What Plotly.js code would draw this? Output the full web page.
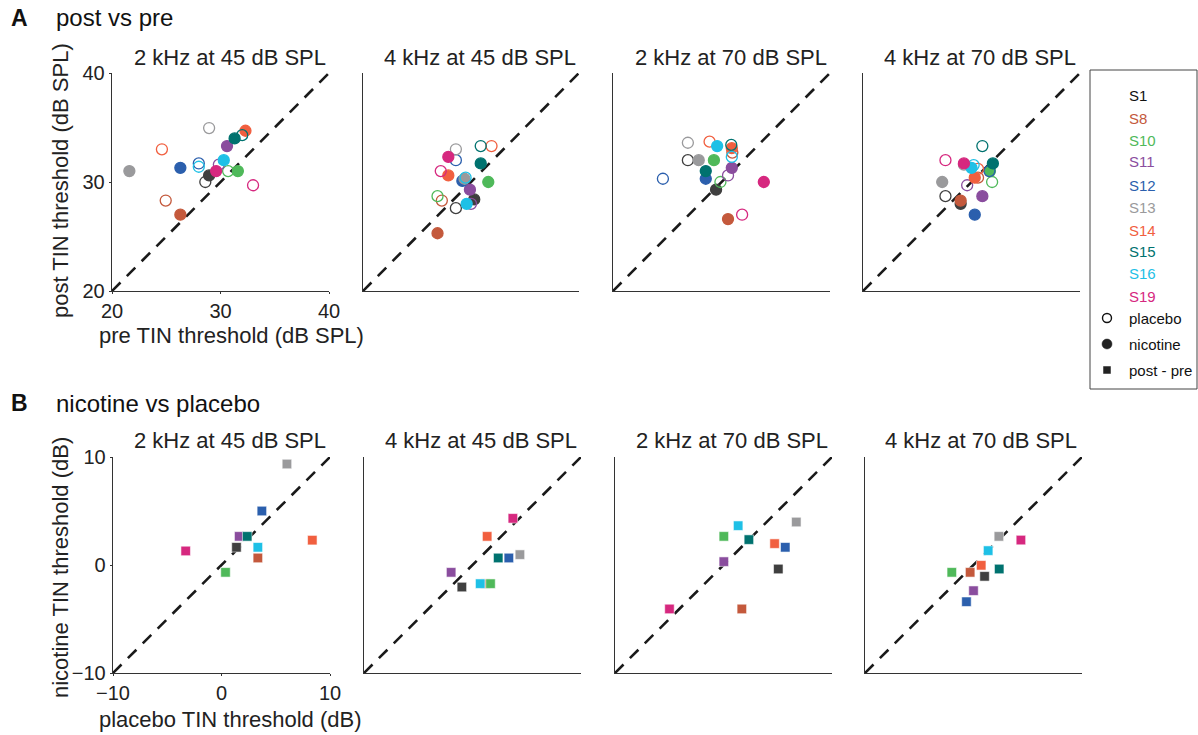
<!DOCTYPE html>
<html>
<head>
<meta charset="utf-8">
<script src="https://cdn.plot.ly/plotly-3.0.1.min.js"></script>
<style>html,body{margin:0;padding:0;background:#fff;}#chart{width:1198px;height:735px;}</style>
</head>
<body>
<div id="chart"></div>
<script>
// ---- data ----
const subjects = ['S1','S8','S10','S11','S12','S13','S14','S15','S16','S19'];
const subjectColors = ['#3f3f3f','#c4593c','#4fb95a','#8a4d9e','#2b5fad','#9a9a9c','#f15f3f','#00726f','#1ec0e6','#d6287f'];
const panelTitles = ['2 kHz at 45 dB SPL','4 kHz at 45 dB SPL','2 kHz at 70 dB SPL','4 kHz at 70 dB SPL'];

// A: post vs pre (x = pre, y = post), placebo (open) and nicotine (filled)
const pre_pl_2k45  = [28.6,24.95,30.7,29.85,28.0,28.95,24.6,32.0,28.0,33.0];
const post_pl_2k45 = [30.0,28.3,31.0,31.6,31.7,34.95,33.0,34.3,31.4,29.7];
const pre_nic_2k45 = [28.95,26.3,31.6,30.6,26.3,21.6,32.3,31.3,30.3,29.6];
const post_nic_2k45= [30.6,27.0,31.0,33.3,31.3,31.0,34.7,34.0,32.0,31.0];

const pre_pl_4k45  = [28.6,27.3,26.9,30.0,28.6,28.6,31.9,30.9,29.5,27.2];
const post_pl_4k45 = [27.6,28.3,28.7,28.0,32.0,33.0,33.3,33.3,30.4,31.0];
const pre_nic_4k45 = [30.3,26.9,31.6,29.9,29.2,29.4,27.9,30.9,29.6,27.9];
const post_nic_4k45= [28.4,25.3,30.0,29.3,30.1,30.3,30.6,31.7,28.0,32.3];

const pre_pl_2k70  = [26.9,31.0,29.9,30.6,24.6,26.9,28.9,30.9,30.95,31.9];
const post_pl_2k70 = [32.0,32.7,30.0,30.6,30.3,33.6,33.7,33.4,32.3,27.0];
const pre_nic_2k70 = [29.5,30.6,29.3,30.95,28.55,27.9,30.95,28.55,29.6,33.9];
const post_nic_2k70= [29.3,26.6,32.0,31.3,30.3,32.0,33.1,31.0,33.3,30.0];

const pre_pl_4k70  = [27.6,30.6,31.9,29.6,31.65,29.3,30.6,31.0,30.2,27.6];
const post_pl_4k70 = [28.7,30.4,30.0,29.7,31.0,31.6,31.2,33.3,31.55,32.0];
const pre_nic_4k70 = [29.0,29.0,31.7,31.0,30.3,27.3,30.3,31.97,30.0,29.3];
const post_nic_4k70= [28.0,28.3,31.0,28.7,27.0,30.0,30.4,31.7,31.3,31.7];

// B: nicotine vs placebo (post - pre)
const dpl_2k45  = [1.38,3.35,0.37,1.63,3.72,6.03,8.37,2.37,3.35,-3.3];
const dnic_2k45 = [1.64,0.65,-0.68,2.65,5.0,9.35,2.3,2.65,1.64,1.3];
const dpl_4k45  = [-0.98,1.2,1.66,-1.97,3.35,4.37,1.35,2.37,0.71,3.72];
const dnic_4k45 = [-2.04,-1.73,-1.73,-0.68,0.65,0.96,2.65,0.65,-1.73,4.32];
const dpl_2k70  = [5.05,1.69,0.03,0.03,5.69,6.71,4.71,2.34,1.35,-4.98];
const dnic_2k70 = [-0.37,-4.07,2.65,0.31,1.64,3.98,1.98,2.35,3.64,-4.07];
const dpl_4k70  = [1.02,-0.31,-2.0,0.0,-0.65,2.34,0.71,2.37,1.35,4.37];
const dnic_4k70 = [-1.05,-0.68,-0.68,-2.38,-3.4,2.65,-0.03,-0.37,1.33,2.31];

const rangeA = [20,40], ticksA = [20,30,40];
const rangeB = [-10,10], ticksB = [-10,0,10];

// ---- build ----
const W = 1198, H = 735;
const px = v => v / W, py = v => 1 - v / H;
const FONT = 'Arial, "Liberation Sans", Helvetica, sans-serif';

const topX = [[112,329],[363,579],[613,830],[863,1080]];
const botX = [[113,330],[364,581],[615,832],[865,1082]];
const topY = [73,291], botY = [457,673];

const Apanels = [
  [pre_pl_2k45,post_pl_2k45,pre_nic_2k45,post_nic_2k45],
  [pre_pl_4k45,post_pl_4k45,pre_nic_4k45,post_nic_4k45],
  [pre_pl_2k70,post_pl_2k70,pre_nic_2k70,post_nic_2k70],
  [pre_pl_4k70,post_pl_4k70,pre_nic_4k70,post_nic_4k70]
];
const Bpanels = [[dpl_2k45,dnic_2k45],[dpl_4k45,dnic_4k45],[dpl_2k70,dnic_2k70],[dpl_4k70,dnic_4k70]];

const traces = [];
const layout = {
  width: W, height: H,
  margin: {l:0,r:0,t:0,b:0},
  paper_bgcolor: '#fff', plot_bgcolor: 'rgba(0,0,0,0)',
  showlegend: false,
  font: {family: FONT, color: '#222'},
  shapes: [], annotations: []
};

function axis(domain, range, anchor, labels, tickvals) {
  return {
    domain: domain, range: range, anchor: anchor,
    showline: true, linecolor: '#333', linewidth: 1.3, mirror: false,
    showgrid: false, zeroline: false,
    ticks: labels ? 'outside' : '', ticklen: 2, tickcolor: '#333', tickwidth: 1,
    showticklabels: labels, tickvals: tickvals,
    tickfont: {size: 20, color: '#222', family: FONT},
    fixedrange: true, automargin: false
  };
}

for (let p = 0; p < 4; p++) {
  const ia = p + 1, ib = p + 5;
  const xa = 'x' + (ia === 1 ? '' : ia), ya = 'y' + (ia === 1 ? '' : ia);
  const xb = 'x' + ib, yb = 'y' + ib;
  layout['xaxis' + (ia === 1 ? '' : ia)] = axis([px(topX[p][0]), px(topX[p][1])], rangeA, ya, p === 0, ticksA);
  layout['yaxis' + (ia === 1 ? '' : ia)] = axis([py(topY[1]), py(topY[0])], rangeA, xa, p === 0, ticksA);
  layout['xaxis' + ib] = axis([px(botX[p][0]), px(botX[p][1])], rangeB, yb, p === 0, ticksB);
  layout['yaxis' + ib] = axis([py(botY[1]), py(botY[0])], rangeB, xb, p === 0, ticksB);

  // diagonals (identity lines)
  layout.shapes.push({type:'line', xref:xa, yref:ya, x0:rangeA[0], y0:rangeA[0], x1:rangeA[1], y1:rangeA[1],
    line:{color:'#1a1a1a', width:2.6, dash:'12px,9px'}, layer:'below'});
  layout.shapes.push({type:'line', xref:xb, yref:yb, x0:rangeB[0], y0:rangeB[0], x1:rangeB[1], y1:rangeB[1],
    line:{color:'#1a1a1a', width:2.6, dash:'12px,9px'}, layer:'below'});

  // A markers: interleave placebo / nicotine per subject
  const [prePl, postPl, preNic, postNic] = Apanels[p];
  const x = [], y = [], sym = [], col = [], txt = [];
  subjects.forEach((s, i) => {
    x.push(prePl[i]); y.push(postPl[i]); sym.push('circle-open'); col.push(subjectColors[i]); txt.push(s + ' placebo');
    x.push(preNic[i]); y.push(postNic[i]); sym.push('circle'); col.push(subjectColors[i]); txt.push(s + ' nicotine');
  });
  traces.push({type:'scatter', mode:'markers', x:x, y:y, xaxis:xa, yaxis:ya, text:txt, hoverinfo:'text+x+y',
    marker:{symbol:sym, color:col, size:11, line:{color:col, width:1.3}}, cliponaxis:false});

  // B markers
  const [dPl, dNic] = Bpanels[p];
  traces.push({type:'scatter', mode:'markers', x:dPl, y:dNic, xaxis:xb, yaxis:yb, text:subjects, hoverinfo:'text+x+y',
    marker:{symbol:'square', color:subjectColors, size:9.5, line:{color:'rgba(255,255,255,0.7)', width:0.8}}, cliponaxis:false});

  // panel titles
  const cxT = (topX[p][0] + topX[p][1]) / 2 + 9, cxB = (botX[p][0] + botX[p][1]) / 2 + 8;
  layout.annotations.push({xref:'paper', yref:'paper', x:px(cxT), y:py(57), xanchor:'center', yanchor:'middle',
    text:panelTitles[p], showarrow:false, font:{size:22, color:'#222', family:FONT}});
  layout.annotations.push({xref:'paper', yref:'paper', x:px(cxB), y:py(440), xanchor:'center', yanchor:'middle',
    text:panelTitles[p], showarrow:false, font:{size:22, color:'#222', family:FONT}});
}

function txtAnn(x, y, text, size, opts) {
  layout.annotations.push(Object.assign({xref:'paper', yref:'paper', x:px(x), y:py(y), xanchor:'left', yanchor:'middle',
    text:text, showarrow:false, font:{size:size, color:'#111', family:FONT}}, opts || {}));
}
// section labels
txtAnn(9, 18, '<b>A</b>', 23);
txtAnn(54, 18, 'post vs pre', 24);
txtAnn(9, 403, '<b>B</b>', 23);
txtAnn(54, 403, 'nicotine vs placebo', 24);

// axis titles
const tf = {size:22, color:'#222', family:FONT};
txtAnn(60, 181, 'post TIN threshold (dB SPL)', 22, {xanchor:'center', textangle:-90, font:tf});
txtAnn(231, 336, 'pre TIN threshold (dB SPL)', 22, {xanchor:'center', font:tf});
txtAnn(60, 568, 'nicotine TIN threshold (dB)', 22, {xanchor:'center', textangle:-90, font:tf});
txtAnn(230, 719, 'placebo TIN threshold (dB)', 22, {xanchor:'center', font:tf});

// legend box
layout.shapes.push({type:'rect', xref:'paper', yref:'paper', x0:px(1090), x1:px(1197), y0:py(389), y1:py(70),
  line:{color:'#444', width:1}, fillcolor:'rgba(0,0,0,0)'});
const legendY = [95,118,140,162,185,207,230,251,273,296];
subjects.forEach((s, i) => {
  txtAnn(1127, legendY[i], s, 15, {font:{size:15, color: i === 0 ? '#111' : subjectColors[i], family:FONT}});
});
txtAnn(1127, 318, 'placebo', 15, {font:{size:15,color:'#111',family:FONT}});
txtAnn(1127, 344, 'nicotine', 15, {font:{size:15,color:'#111',family:FONT}});
txtAnn(1127, 370, 'post - pre', 15, {font:{size:15,color:'#111',family:FONT}});
layout.shapes.push({type:'circle', xref:'paper', yref:'paper', xsizemode:'pixel', ysizemode:'pixel',
  xanchor:px(1107), yanchor:py(318), x0:-4.5, x1:4.5, y0:-4.5, y1:4.5, line:{color:'#111', width:1.4}, fillcolor:'#fff'});
layout.shapes.push({type:'circle', xref:'paper', yref:'paper', xsizemode:'pixel', ysizemode:'pixel',
  xanchor:px(1107), yanchor:py(344), x0:-5, x1:5, y0:-5, y1:5, line:{color:'#222', width:0.5}, fillcolor:'#222'});
layout.shapes.push({type:'rect', xref:'paper', yref:'paper', xsizemode:'pixel', ysizemode:'pixel',
  xanchor:px(1107), yanchor:py(370), x0:-3.5, x1:3.5, y0:-3.5, y1:3.5, line:{color:'#222', width:0.5}, fillcolor:'#222'});

Plotly.newPlot('chart', traces, layout, {displayModeBar:false, staticPlot:true});
</script>
</body>
</html>
